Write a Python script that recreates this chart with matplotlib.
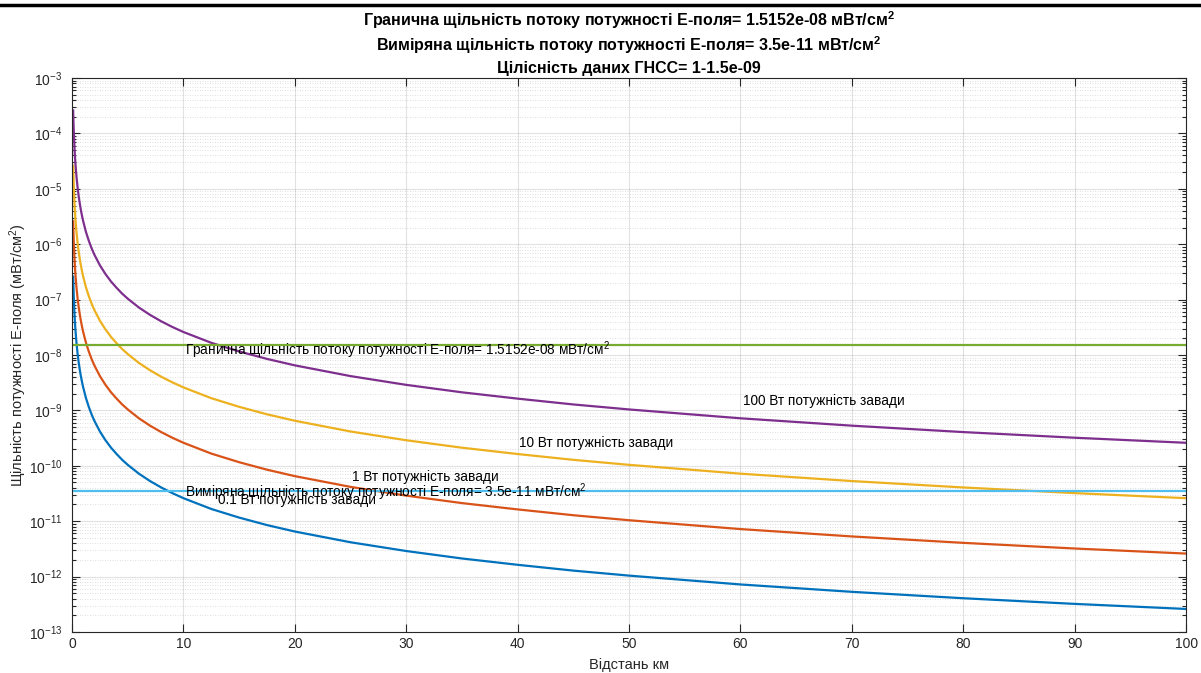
import matplotlib
matplotlib.use("Agg")
import matplotlib.pyplot as plt
from matplotlib.ticker import LogLocator, MultipleLocator, NullFormatter
from matplotlib.lines import Line2D

plt.rcParams["font.family"] = ["Liberation Sans", "DejaVu Sans"]
plt.rcParams["mathtext.default"] = "regular"

AX_COL = "#262626"
BLUE = "#0072BD"
ORANGE = "#D95319"
YELLOW = "#EDB120"
PURPLE = "#7E2F8E"
GREEN = "#77AC30"
CYAN = "#4DBEEE"

# distance, km
dist_km = [0.1, 0.12, 0.15, 0.2, 0.25, 0.3, 0.4, 0.5, 0.6, 0.7, 0.8, 0.9, 1,
           1.25, 1.5, 1.75, 2, 2.5, 3, 3.5, 4, 4.5, 5, 6, 7, 8, 9, 10,
           12.5, 15, 17.5, 20, 25, 30, 35, 40, 45, 50, 60, 70, 80, 90, 100]

# power density, mW/cm^2, for each interferer power
p100w = [2.6e-4, 1.81e-4, 1.16e-4, 6.5e-5, 4.16e-5, 2.89e-5, 1.63e-5, 1.04e-5,
         7.2e-6, 5.3e-6, 4.06e-6, 3.21e-6, 2.6e-6, 1.66e-6, 1.16e-6, 8.5e-7,
         6.5e-7, 4.16e-7, 2.89e-7, 2.12e-7, 1.63e-7, 1.28e-7, 1.04e-7, 7.2e-8,
         5.3e-8, 4.06e-8, 3.21e-8, 2.6e-8, 1.66e-8, 1.16e-8, 8.5e-9, 6.5e-9,
         4.16e-9, 2.89e-9, 2.12e-9, 1.63e-9, 1.28e-9, 1.04e-9, 7.2e-10, 5.3e-10,
         4.06e-10, 3.21e-10, 2.6e-10]
p10w = [2.6e-5, 1.81e-5, 1.16e-5, 6.5e-6, 4.16e-6, 2.89e-6, 1.63e-6, 1.04e-6,
        7.2e-7, 5.3e-7, 4.06e-7, 3.21e-7, 2.6e-7, 1.66e-7, 1.16e-7, 8.5e-8,
        6.5e-8, 4.16e-8, 2.89e-8, 2.12e-8, 1.63e-8, 1.28e-8, 1.04e-8, 7.2e-9,
        5.3e-9, 4.06e-9, 3.21e-9, 2.6e-9, 1.66e-9, 1.16e-9, 8.5e-10, 6.5e-10,
        4.16e-10, 2.89e-10, 2.12e-10, 1.63e-10, 1.28e-10, 1.04e-10, 7.2e-11, 5.3e-11,
        4.06e-11, 3.21e-11, 2.6e-11]
p1w = [2.6e-6, 1.81e-6, 1.16e-6, 6.5e-7, 4.16e-7, 2.89e-7, 1.63e-7, 1.04e-7,
       7.2e-8, 5.3e-8, 4.06e-8, 3.21e-8, 2.6e-8, 1.66e-8, 1.16e-8, 8.5e-9,
       6.5e-9, 4.16e-9, 2.89e-9, 2.12e-9, 1.63e-9, 1.28e-9, 1.04e-9, 7.2e-10,
       5.3e-10, 4.06e-10, 3.21e-10, 2.6e-10, 1.66e-10, 1.16e-10, 8.5e-11, 6.5e-11,
       4.16e-11, 2.89e-11, 2.12e-11, 1.63e-11, 1.28e-11, 1.04e-11, 7.2e-12, 5.3e-12,
       4.06e-12, 3.21e-12, 2.6e-12]
p01w = [2.6e-7, 1.81e-7, 1.16e-7, 6.5e-8, 4.16e-8, 2.89e-8, 1.63e-8, 1.04e-8,
        7.2e-9, 5.3e-9, 4.06e-9, 3.21e-9, 2.6e-9, 1.66e-9, 1.16e-9, 8.5e-10,
        6.5e-10, 4.16e-10, 2.89e-10, 2.12e-10, 1.63e-10, 1.28e-10, 1.04e-10, 7.2e-11,
        5.3e-11, 4.06e-11, 3.21e-11, 2.6e-11, 1.66e-11, 1.16e-11, 8.5e-12, 6.5e-12,
        4.16e-12, 2.89e-12, 2.12e-12, 1.63e-12, 1.28e-12, 1.04e-12, 7.2e-13, 5.3e-13,
        4.06e-13, 3.21e-13, 2.6e-13]

limit_level = 1.5152e-8
measured_level = 3.5e-11

# curve labels: (x km, y, text)
curve_labels = [
    (60.2, 1.45e-9, "100 Вт потужність завади"),
    (40.1, 2.6e-10, "10 Вт потужність завади"),
    (25.1, 6.3e-11, "1 Вт потужність завади"),
    (13.1, 2.45e-11, "0.1 Вт потужність завади"),
]

title_lines = [
    "Гранична щільність потоку потужності Е-поля= 1.5152e-08 мВт/см$^2$",
    "Виміряна щільність потоку потужності Е-поля= 3.5e-11 мВт/см$^2$",
    "Цілісність даних ГНСС= 1-1.5e-09",
]

fig = plt.figure(figsize=(12.01, 6.73), dpi=100)
ax = fig.add_axes([0.06, 0.061, 0.9276, 0.823])

ax.plot(dist_km, p01w, color=BLUE, lw=1.6)
ax.plot(dist_km, p1w, color=ORANGE, lw=1.6)
ax.plot(dist_km, p10w, color=YELLOW, lw=1.6)
ax.plot(dist_km, p100w, color=PURPLE, lw=1.6)
ax.axhline(limit_level, color=GREEN, lw=1.6)
ax.axhline(measured_level, color=CYAN, lw=1.6)

ax.set_yscale("log")
ax.set_xlim(0, 100)
ax.set_ylim(1e-13, 1e-3)
ax.xaxis.set_major_locator(MultipleLocator(10))
ax.yaxis.set_major_locator(LogLocator(base=10, numticks=20))
ax.yaxis.set_minor_locator(LogLocator(base=10, subs=range(2, 10), numticks=200))
ax.yaxis.set_minor_formatter(NullFormatter())

ax.grid(True, which="major", color="#262626", alpha=0.13, lw=0.8)
ax.grid(True, which="minor", axis="y", color="#262626", alpha=0.2, lw=0.6, ls=(0, (1, 2)))
ax.set_axisbelow(True)

for s in ax.spines.values():
    s.set_color(AX_COL)
    s.set_linewidth(0.8)
ax.tick_params(which="both", direction="in", top=True, right=True, colors=AX_COL,
               labelsize=10, width=0.8)
ax.tick_params(which="major", length=6)
ax.tick_params(which="minor", length=3)
ax.tick_params(axis="y", pad=7)
for lab in ax.get_xticklabels() + ax.get_yticklabels():
    lab.set_color(AX_COL)

ax.text(10.1, 1.23e-8, "Гранична щільність потоку потужності Е-поля= 1.5152e-08 мВт/см$^2$",
        fontsize=9.8, va="center", ha="left", color="black")
ax.text(10.1, 3.3e-11, "Виміряна щільність потоку потужності Е-поля= 3.5e-11 мВт/см$^2$",
        fontsize=9.8, va="center", ha="left", color="black")
for x, y, t in curve_labels:
    ax.text(x, y, t, fontsize=9.8, va="center", ha="left", color="black")

ax.set_xlabel("Відстань км", fontsize=10.5, color=AX_COL, labelpad=5)
ax.set_ylabel("Щільність потужності Е-поля (мВт/см$^2$)", fontsize=10.5, color=AX_COL, labelpad=0)

# three-line bold title, placed line by line
cx = 0.06 + 0.9276 / 2
for ypx, line in zip([20, 45, 68], title_lines):
    fig.text(cx, 1 - ypx / 673, line, ha="center", va="center", fontsize=11.5,
             fontweight="bold", color="black")

# page border line at the very top of the capture
fig.add_artist(Line2D([0, 1], [1 - 5 / 673, 1 - 5 / 673], color="black", lw=2.5,
                      transform=fig.transFigure))

fig.savefig("out.png", dpi=100)
